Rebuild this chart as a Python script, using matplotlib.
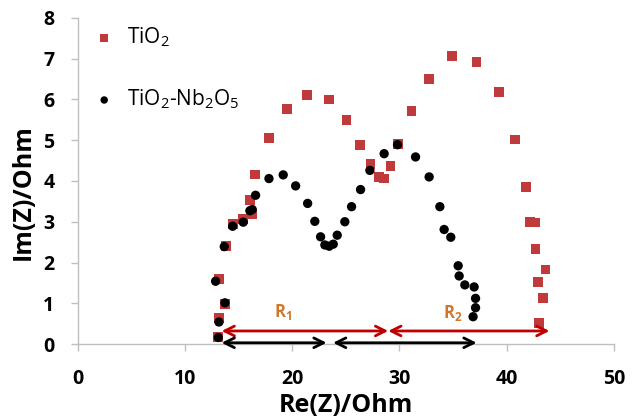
import matplotlib
matplotlib.use('Agg')
import matplotlib.pyplot as plt

# TiO2 impedance points (Re, Im)
tio2_re = [13.09, 13.15, 13.74, 13.15, 13.78, 14.49, 15.42, 16.2, 16.04, 16.51,
           17.82, 19.47, 21.39, 23.41, 25.06, 26.3, 27.3, 28.08, 28.54, 29.17,
           29.9, 31.13, 32.77, 34.89, 37.19, 39.3, 40.8, 41.79, 42.16, 42.69,
           42.69, 43.63, 42.94, 43.38, 43.0]
tio2_im = [0.17, 0.64, 0.98, 1.59, 2.41, 2.94, 3.06, 3.2, 3.53, 4.16,
           5.06, 5.76, 6.10, 6.0, 5.49, 4.89, 4.41, 4.1, 4.06, 4.36,
           4.9, 5.72, 6.5, 7.06, 6.91, 6.18, 5.02, 3.86, 3.0, 2.98,
           2.33, 1.83, 1.52, 1.12, 0.51]

# TiO2-Nb2O5 impedance points (Re, Im)
nb_re = [13.09, 13.15, 13.71, 12.84, 13.65, 14.43, 15.42, 16.04, 16.26, 16.57,
         17.82, 19.15, 20.31, 21.43, 22.1, 22.64, 23.04, 23.44, 23.82, 24.19,
         24.9, 25.53, 26.37, 27.24, 28.57, 29.82, 31.5, 32.77, 33.77, 34.17,
         34.79, 35.48, 35.57, 36.1, 36.97, 37.1, 37.1, 36.87]
nb_im = [0.16, 0.54, 1.01, 1.54, 2.39, 2.89, 2.99, 3.27, 3.30, 3.65,
         4.06, 4.15, 3.88, 3.45, 3.01, 2.63, 2.43, 2.40, 2.45, 2.67,
         3.0, 3.37, 3.79, 4.26, 4.67, 4.89, 4.59, 4.10, 3.37, 2.81,
         2.62, 1.92, 1.67, 1.45, 1.40, 1.12, 0.89, 0.67]

# resistance spans shown by the arrows
red_spans = [(13.4, 28.95), (28.95, 44.0)]
black_spans = [(13.4, 23.2), (23.8, 37.2)]
red_y = 0.32
black_y = 0.03
r_labels = ['R$_1$', 'R$_2$']
r_label_pos = [(19.15, 0.79), (35.0, 0.75)]

FONT = 'Open Sans'
plt.rcParams['font.family'] = [FONT, 'DejaVu Sans']
plt.rcParams['mathtext.fontset'] = 'custom'
plt.rcParams['mathtext.rm'] = FONT
plt.rcParams['mathtext.bf'] = FONT + ':bold'
plt.rcParams['mathtext.default'] = 'regular'

fig = plt.figure(figsize=(6.4, 4.18), dpi=100)
ax = fig.add_axes([0.1219, 0.177, 0.8371, 0.78])

ax.scatter(tio2_re, tio2_im, marker='s', s=50, color='#C0393B', edgecolors='none',
           label='TiO$_2$', zorder=3)
ax.scatter(nb_re, nb_im, marker='o', s=45, color='black', edgecolors='none',
           label='TiO$_2$-Nb$_2$O$_5$', zorder=4)

for x0, x1 in red_spans:
    ax.annotate('', xy=(x1, red_y), xytext=(x0, red_y),
                arrowprops=dict(arrowstyle='<->,head_length=0.7,head_width=0.35',
                                color='#C00000', lw=2, shrinkA=0, shrinkB=0), zorder=5)
for x0, x1 in black_spans:
    ax.annotate('', xy=(x1, black_y), xytext=(x0, black_y),
                arrowprops=dict(arrowstyle='<->,head_length=0.7,head_width=0.35',
                                color='black', lw=2, shrinkA=0, shrinkB=0), zorder=5)
for lab, (lx, ly) in zip(r_labels, r_label_pos):
    ax.text(lx, ly, lab, color='#D0782A', fontsize=12, fontweight='bold',
            ha='center', va='center')

ax.set_xlim(0, 50)
ax.set_ylim(0, 8)
ax.set_xticks([0, 10, 20, 30, 40, 50])
ax.set_yticks(range(0, 9))
for s in ['top', 'right']:
    ax.spines[s].set_visible(False)
for s in ['left', 'bottom']:
    ax.spines[s].set_color('#BFBFBF')
    ax.spines[s].set_linewidth(1)
ax.tick_params(axis='both', colors='#BFBFBF', length=5, width=1, labelcolor='black')
ax.tick_params(axis='x', pad=13)
ax.tick_params(axis='y', pad=12)
for t in ax.get_xticklabels() + ax.get_yticklabels():
    t.set_fontsize(14)
    t.set_fontweight('bold')

ax.set_xlabel('Re(Z)/Ohm', fontsize=18, fontweight='bold', va='center')
ax.set_ylabel('Im(Z)/Ohm', fontsize=18, fontweight='bold', va='center')
ax.xaxis.set_label_coords(0.5, -0.19)
ax.yaxis.set_label_coords(-0.1026, 0.466)

ax.legend(loc='upper left', bbox_to_anchor=(-0.025, 1.035), frameon=False, fontsize=15,
          labelspacing=1.85, handletextpad=0.1, markerscale=0.8)

fig.savefig('out.png', dpi=100)
